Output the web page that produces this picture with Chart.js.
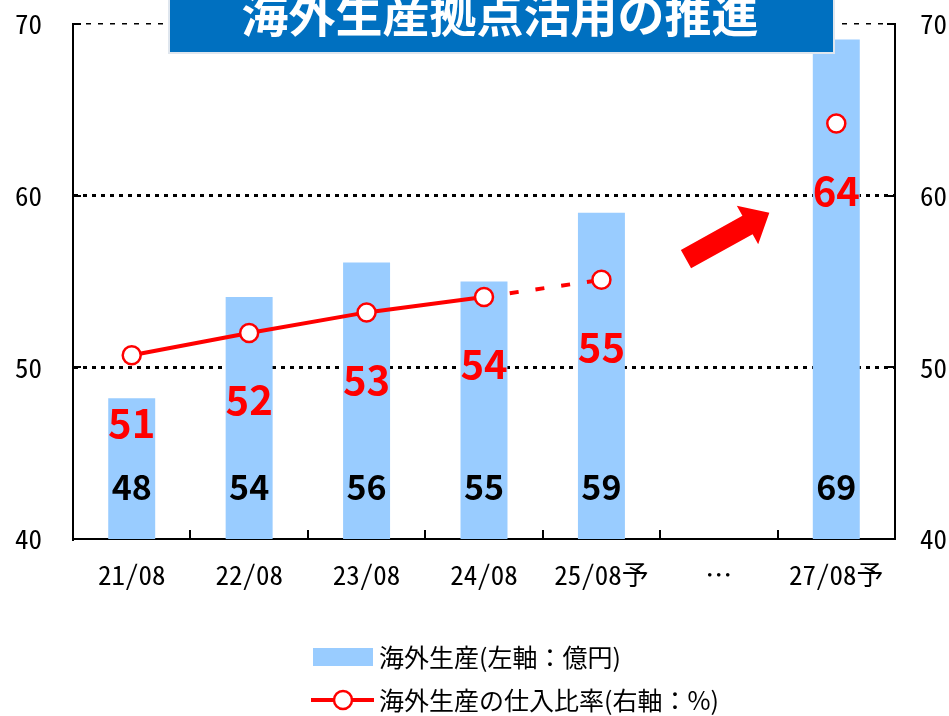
<!DOCTYPE html>
<html>
<head>
<meta charset="utf-8">
<script src="https://cdn.jsdelivr.net/npm/chart.js@4.4.0/dist/chart.umd.min.js"></script>
<style>
    body { margin: 0; background: #fff; }
    #wrap { width: 949px; height: 716px; }
</style>
</head>
<body>
<div id="wrap"><canvas id="chart" width="949" height="716"></canvas></div>
<script>
const categories = ['21/08', '22/08', '23/08', '24/08', '25/08予', '…', '27/08予'];
const productionValues = [48.2, 54.1, 56.1, 55.0, 59.0, null, 69.1];
const productionLabels = [48, 54, 56, 55, 59, null, 69];
const ratioValues = [50.7, 52.0, 53.2, 54.1, 55.1, null, 64.2];
const ratioLabels = [51, 52, 53, 54, 55, null, 64];
const axisTicks = [40, 50, 60, 70];

const titleText = '海外生産拠点活用の推進';
const productionName = '海外生産(左軸：億円)';
const ratioName = '海外生産の仕入比率(右軸：%)';

const BLUE = '#99CCFF';
const RED = '#FF0000';
const JP = '"Noto Sans CJK JP", "Noto Sans", sans-serif';
const MONO = '"Noto Sans Mono CJK JP", "Noto Sans CJK JP", "DejaVu Sans Mono", monospace';

const decor = {
    id: 'decor',
    afterDatasetsDraw(chart) {
        const ctx = chart.ctx;
        const area = chart.chartArea;
        const x = chart.scales.x;
        const y = chart.scales.y;
        const y1 = chart.scales.y1;

        // inward tick marks
        ctx.save();
        ctx.strokeStyle = '#000';
        ctx.lineWidth = 2;
        ctx.beginPath();
        for (let i = 1; i < categories.length; i++) {
            const px = Math.round(x.getPixelForValue(i - 0.5));
            ctx.moveTo(px, area.bottom);
            ctx.lineTo(px, area.bottom - 9);
        }
        axisTicks.forEach(v => {
            const py = Math.round(y.getPixelForValue(v));
            ctx.moveTo(area.left, py);
            ctx.lineTo(area.left + 8, py);
            const py1 = Math.round(y1.getPixelForValue(v));
            ctx.moveTo(area.right, py1);
            ctx.lineTo(area.right - 8, py1);
        });
        ctx.stroke();
        ctx.restore();

        // bar value labels
        const barMeta = chart.getDatasetMeta(0);
        ctx.save();
        ctx.fillStyle = '#000';
        ctx.font = 'bold 34px ' + JP;
        ctx.textAlign = 'center';
        ctx.textBaseline = 'middle';
        barMeta.data.forEach((bar, i) => {
            if (productionLabels[i] == null) return;
            ctx.fillText(String(productionLabels[i]), bar.x, area.bottom - 52);
        });
        ctx.restore();

        // ratio labels
        const lineMeta = chart.getDatasetMeta(1);
        ctx.save();
        ctx.fillStyle = RED;
        ctx.font = 'bold 40px ' + JP;
        ctx.textAlign = 'center';
        ctx.textBaseline = 'middle';
        lineMeta.data.forEach((pt, i) => {
            if (ratioLabels[i] == null) return;
            ctx.fillText(String(ratioLabels[i]), pt.x, pt.y + 67);
        });
        ctx.restore();

        // arrow toward the 27/08 forecast
        const tx = x.getPixelForValue(4.72), ty = y1.getPixelForValue(56.3);
        const hx = x.getPixelForValue(5.43), hy = y1.getPixelForValue(59.0);
        const dx = hx - tx, dy = hy - ty;
        const len = Math.hypot(dx, dy);
        const ux = dx / len, uy = dy / len;
        const nx = -uy, ny = ux;
        const shaft = 10.5, head = 22, headLen = 25;
        const bx = hx - ux * headLen, by = hy - uy * headLen;
        ctx.save();
        ctx.fillStyle = RED;
        ctx.beginPath();
        ctx.moveTo(tx + nx * shaft, ty + ny * shaft);
        ctx.lineTo(bx + nx * shaft, by + ny * shaft);
        ctx.lineTo(bx + nx * head, by + ny * head);
        ctx.lineTo(hx, hy);
        ctx.lineTo(bx - nx * head, by - ny * head);
        ctx.lineTo(bx - nx * shaft, by - ny * shaft);
        ctx.lineTo(tx - nx * shaft, ty - ny * shaft);
        ctx.closePath();
        ctx.fill();
        ctx.restore();
    },
    afterDraw(chart) {
        const ctx = chart.ctx;

        // title box
        ctx.save();
        ctx.fillStyle = '#0070C0';
        ctx.fillRect(169, -10, 665, 63);
        ctx.strokeStyle = '#dfe6ee';
        ctx.lineWidth = 2;
        ctx.strokeRect(169, -10, 665, 63);
        ctx.fillStyle = '#fff';
        ctx.font = 'bold 47px ' + JP;
        ctx.textAlign = 'center';
        ctx.textBaseline = 'middle';
        ctx.fillText(titleText, 500, 14);
        ctx.restore();

        // legend
        ctx.save();
        ctx.font = '25px ' + JP;
        ctx.textBaseline = 'middle';
        ctx.fillStyle = chart.data.datasets[0].backgroundColor;
        ctx.fillRect(313, 648, 60, 18);
        ctx.fillStyle = '#000';
        ctx.fillText(chart.data.datasets[0].label, 379, 657);

        ctx.strokeStyle = RED;
        ctx.lineWidth = 4;
        ctx.beginPath();
        ctx.moveTo(311, 700);
        ctx.lineTo(374, 700);
        ctx.stroke();
        ctx.beginPath();
        ctx.arc(343, 700, 9, 0, Math.PI * 2);
        ctx.fillStyle = '#fff';
        ctx.fill();
        ctx.lineWidth = 2.5;
        ctx.stroke();
        ctx.fillStyle = '#000';
        ctx.fillText(chart.data.datasets[1].label, 379, 700);
        ctx.restore();
    }
};

// vertical axes: fixed width, no extra top/bottom padding from tick labels
const fixVertical = w => s => {
    s.width = w;
    s.paddingTop = 0;
    s.paddingBottom = 0;
};

const ctx = document.getElementById('chart').getContext('2d');

const chart = new Chart(ctx, {
    type: 'bar',
    data: {
        labels: categories,
        datasets: [
            {
                type: 'bar',
                label: productionName,
                data: productionValues,
                backgroundColor: BLUE,
                borderWidth: 0,
                barPercentage: 0.4,
                categoryPercentage: 1.0,
                yAxisID: 'y',
                order: 2
            },
            {
                type: 'line',
                label: ratioName,
                data: ratioValues,
                borderColor: RED,
                borderWidth: 4,
                pointRadius: 9,
                pointBackgroundColor: '#fff',
                pointBorderColor: RED,
                pointBorderWidth: 2.5,
                spanGaps: false,
                tension: 0,
                segment: {
                    borderDash: c => c.p0DataIndex === 3 ? [9, 17] : undefined
                },
                yAxisID: 'y1',
                order: 1
            }
        ]
    },
    options: {
        responsive: false,
        devicePixelRatio: 1,
        animation: false,
        layout: { padding: { top: 24, left: 0, right: 0, bottom: 0 } },
        plugins: {
            legend: { display: false },
            tooltip: { enabled: false }
        },
        scales: {
            x: {
                offset: true,
                grid: { display: true, drawOnChartArea: false, drawTicks: false },
                border: { display: true, color: '#000', width: 2 },
                ticks: {
                    color: '#000',
                    font: { family: MONO, size: 27 },
                    padding: 20,
                    maxRotation: 0,
                    autoSkip: false
                },
                afterFit: s => { s.height = 177; s.paddingLeft = 0; s.paddingRight = 0; }
            },
            y: {
                position: 'left',
                min: 40,
                max: 70,
                ticks: {
                    stepSize: 10,
                    color: '#000',
                    font: { family: MONO, size: 27 },
                    padding: 31
                },
                grid: {
                    drawTicks: false,
                    color: c => c.tick && c.tick.value === 40 ? 'rgba(0,0,0,0)' : '#000',
                    lineWidth: c => c.tick && c.tick.value === 70 ? 1.5 : 3
                },
                border: {
                    display: true,
                    color: '#000',
                    width: 2,
                    dash: c => c.tick && c.tick.value === 70 ? [5, 7] : [4, 5]
                },
                afterFit: fixVertical(73)
            },
            y1: {
                position: 'right',
                min: 40,
                max: 70,
                ticks: {
                    stepSize: 10,
                    color: '#000',
                    font: { family: MONO, size: 27 },
                    padding: 25
                },
                grid: { drawOnChartArea: false, drawTicks: false },
                border: { display: true, color: '#000', width: 2 },
                afterFit: fixVertical(54)
            }
        }
    },
    plugins: [decor]
});
</script>
</body>
</html>
